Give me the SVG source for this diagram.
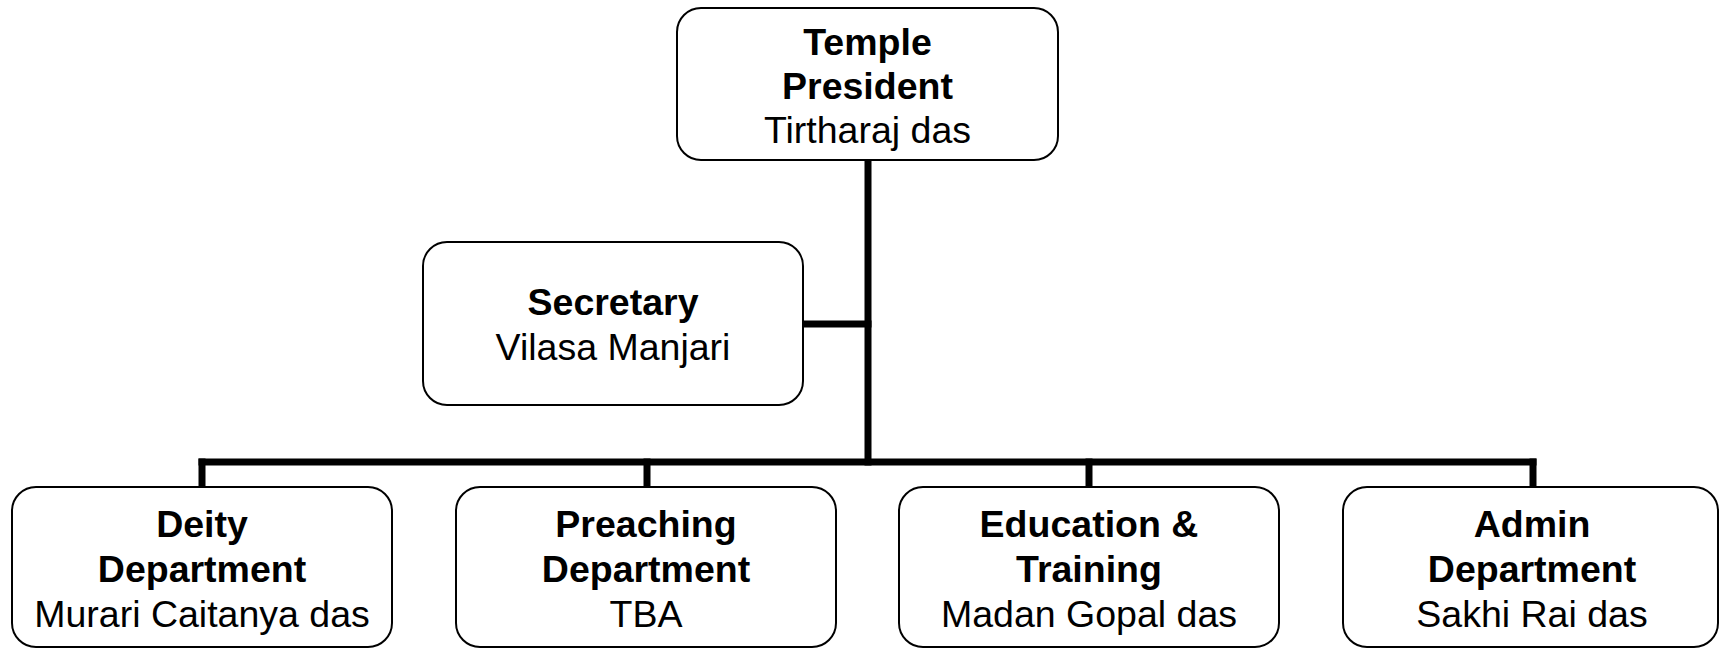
<svg xmlns="http://www.w3.org/2000/svg" width="1719" height="649" viewBox="0 0 1719 649">
<style>
.box{fill:#fff;stroke:#000;stroke-width:2}
.t{font-family:"Liberation Sans",Arial,sans-serif;font-size:37.5px;text-anchor:middle;fill:#000}
.b{font-weight:bold}
.c{fill:none;stroke:#000;stroke-width:7;stroke-linecap:square}
</style>
<rect width="1719" height="649" fill="#fff"/>
<g id="connectors">
<line class="c" x1="868" y1="160" x2="868" y2="462"/>
<line class="c" x1="803" y1="324" x2="868" y2="324"/>
<line class="c" x1="202" y1="462" x2="1533" y2="462"/>
<line class="c" x1="202" y1="462" x2="202" y2="487"/>
<line class="c" x1="647" y1="462" x2="647" y2="487"/>
<line class="c" x1="1089" y1="462" x2="1089" y2="487"/>
<line class="c" x1="1533" y1="462" x2="1533" y2="487"/>
</g>
<g id="president">
<rect class="box" x="677" y="8" width="381" height="152" rx="24"/>
<text class="t b" x="867.5" y="55">Temple</text>
<text class="t b" x="867.5" y="99">President</text>
<text class="t" x="867.5" y="143">Tirtharaj das</text>
</g>
<g id="secretary">
<rect class="box" x="423" y="242" width="380" height="163" rx="24"/>
<text class="t b" x="613" y="315">Secretary</text>
<text class="t" x="613" y="360">Vilasa Manjari</text>
</g>
<g id="deity">
<rect class="box" x="12" y="487" width="380" height="160" rx="24"/>
<text class="t b" x="202" y="537">Deity</text>
<text class="t b" x="202" y="582">Department</text>
<text class="t" x="202" y="627">Murari Caitanya das</text>
</g>
<g id="preaching">
<rect class="box" x="456" y="487" width="380" height="160" rx="24"/>
<text class="t b" x="646" y="537">Preaching</text>
<text class="t b" x="646" y="582">Department</text>
<text class="t" x="646" y="627">TBA</text>
</g>
<g id="education">
<rect class="box" x="899" y="487" width="380" height="160" rx="24"/>
<text class="t b" x="1089" y="537">Education &amp;</text>
<text class="t b" x="1089" y="582">Training</text>
<text class="t" x="1089" y="627">Madan Gopal das</text>
</g>
<g id="admin">
<rect class="box" x="1343" y="487" width="375" height="160" rx="24"/>
<text class="t b" x="1532" y="537">Admin</text>
<text class="t b" x="1532" y="582">Department</text>
<text class="t" x="1532" y="627">Sakhi Rai das</text>
</g>
</svg>
